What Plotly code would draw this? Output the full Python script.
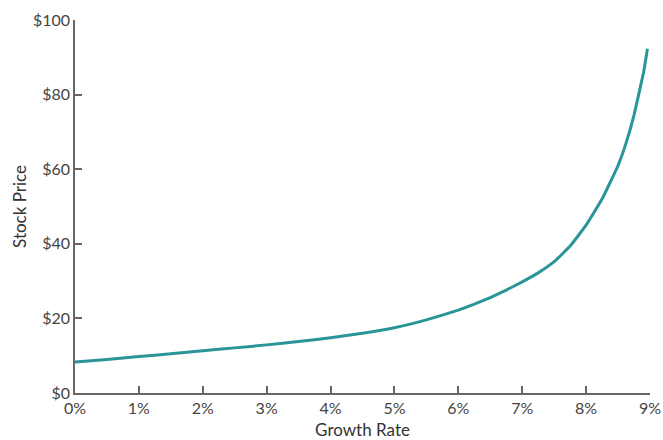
import plotly.graph_objects as go

growth_rate = [0, 0.5, 1, 1.5, 2, 2.5, 3, 3.5, 4, 4.5, 5, 5.5, 6, 6.25, 6.5, 6.75, 7, 7.25, 7.5, 7.75, 8, 8.25, 8.5, 8.625, 8.75, 8.9, 8.96]
stock_price = [8.3, 9.0, 9.8, 10.5, 11.3, 12.1, 12.9, 13.8, 14.8, 16.0, 17.5, 19.6, 22.2, 23.8, 25.6, 27.6, 29.8, 32.2, 35.2, 39.4, 45.0, 52.0, 61.0, 67.0, 74.5, 86.0, 92.3]
x_ticks = [0, 1, 2, 3, 4, 5, 6, 7, 8, 9]
x_labels = ["0%", "1%", "2%", "3%", "4%", "5%", "6%", "7%", "8%", "9%"]
y_ticks = [0, 20, 40, 60, 80, 100]
y_labels = ["$0", "$20", "$40", "$60", "$80", "$100"]

font_family = "Lato, 'Open Sans', sans-serif"

fig = go.Figure()
fig.add_trace(go.Scatter(
    x=growth_rate, y=stock_price, mode="lines",
    line=dict(color="#2a9598", width=3, shape="spline", smoothing=0.3),
    cliponaxis=False, hoverinfo="skip"
))

fig.update_layout(
    width=663, height=440,
    margin=dict(l=75, r=13, t=20, b=47, autoexpand=False),
    paper_bgcolor="white", plot_bgcolor="white",
    showlegend=False,
    font=dict(family=font_family, size=16, color="#444"),
)
fig.update_xaxes(
    range=[0, 9], tickmode="array", tickvals=x_ticks, ticktext=x_labels,
    automargin=False,
    showgrid=False, zeroline=False,
    showline=True, linecolor="#666", linewidth=1.5,
    ticks="inside", ticklen=7, tickcolor="#666", tickwidth=1.5,
    tickfont=dict(size=16, color="#444"),
    title=dict(text="Growth Rate", font=dict(size=17, color="#333"), standoff=8),
)
fig.update_yaxes(
    range=[0, 100], tickmode="array", tickvals=y_ticks, ticktext=y_labels,
    automargin=False,
    showgrid=False, zeroline=False,
    showline=True, linecolor="#666", linewidth=1.5,
    ticks="inside", ticklen=7, tickcolor="#666", tickwidth=1.5,
    tickfont=dict(size=16, color="#444"),
    title=dict(text="Stock Price", font=dict(size=17, color="#333"), standoff=2),
)

fig.write_html(
    "out.html",
    config={"displayModeBar": False},
    post_script="document.body.style.margin='0';document.body.style.padding='0';document.body.style.overflow='hidden';",
)
